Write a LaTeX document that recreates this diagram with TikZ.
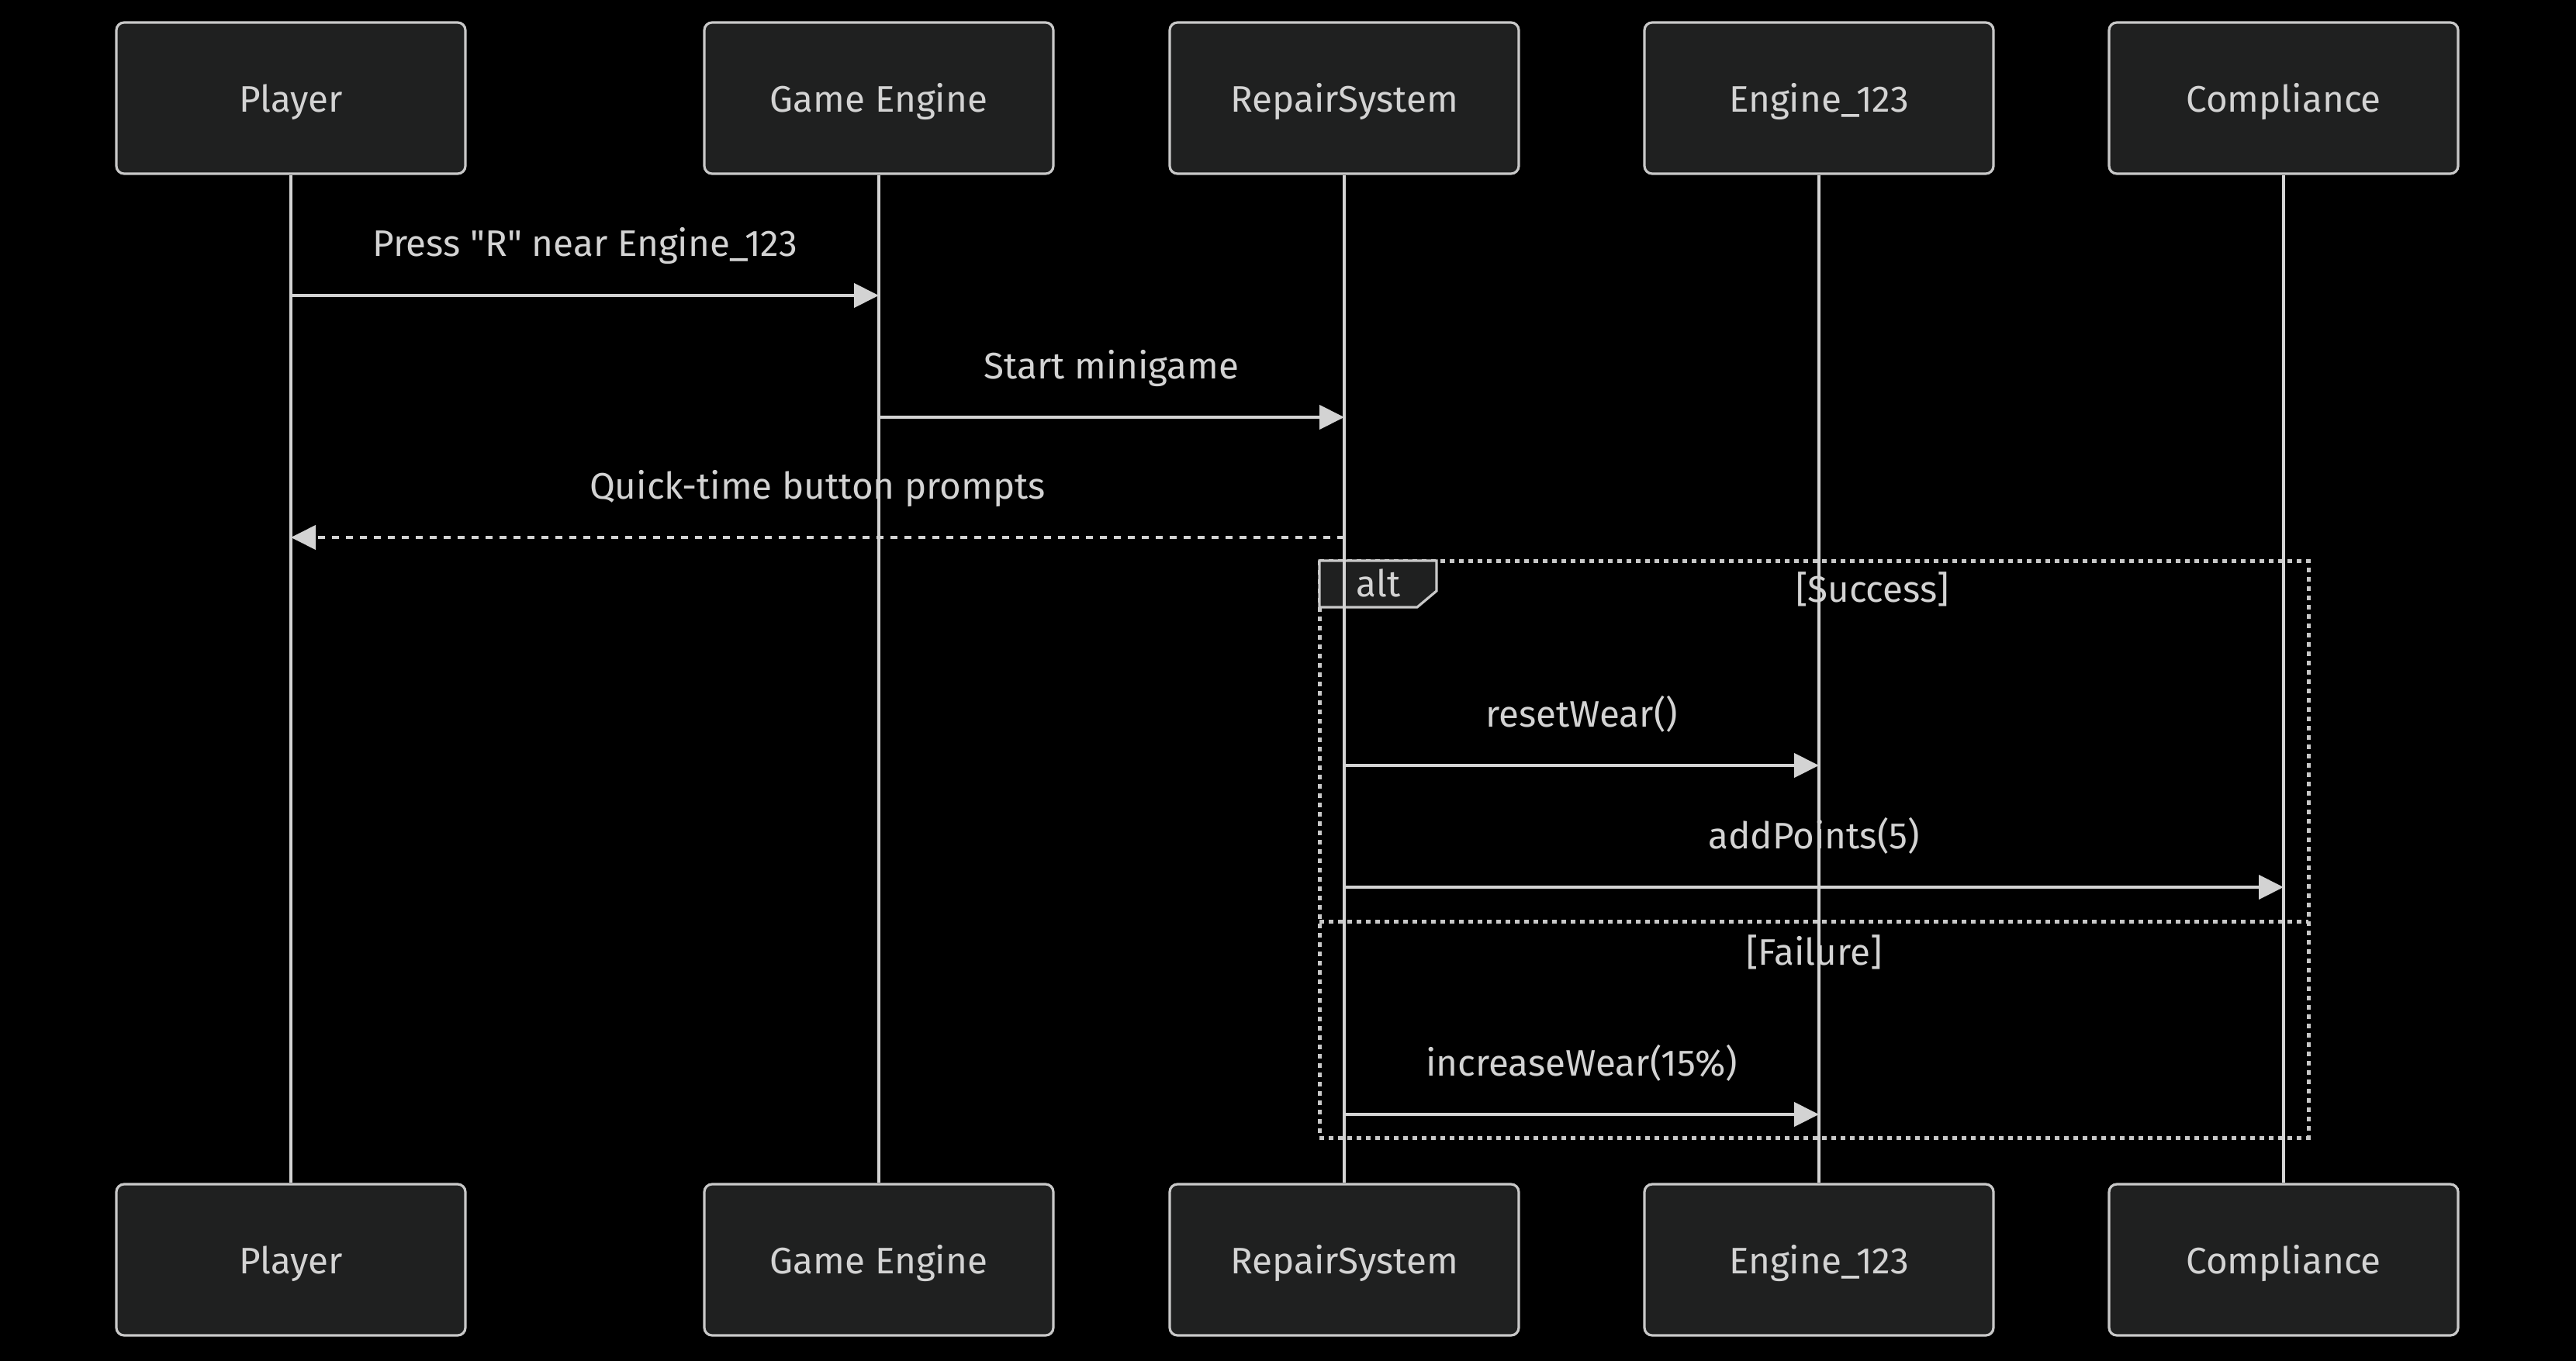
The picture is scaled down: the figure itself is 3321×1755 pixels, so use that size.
\documentclass[tikz,border=0pt]{standalone}
\usepackage{fontspec}
\setmainfont{Fira Sans}[Ligatures=TeXOff]
\usetikzlibrary{arrows.meta}
\definecolor{boxfill}{HTML}{1F2020}
\definecolor{boxline}{HTML}{C8C8C8}
\definecolor{txt}{HTML}{D3D3D3}
\definecolor{ln}{HTML}{D3D3D3}
\begin{document}
\begin{tikzpicture}[x=0.25pt,y=-0.25pt,
  actor/.style={draw=boxline, fill=boxfill, line width=0.8pt, rounded corners=2.5pt,
    minimum width=112.5pt, minimum height=48.75pt, text=txt,
    font=\fontsize{11.9}{14}\selectfont, inner sep=0pt, text height=9.2pt, text depth=0pt},
  life/.style={draw=ln, line width=1.05pt},
  msg/.style={draw=ln, line width=1pt, -{Triangle[length=8pt,width=7.75pt]}},
  retmsg/.style={msg, dash pattern=on 2.25pt off 2.25pt},
  lbl/.style={text=txt, font=\fontsize{11.9}{14}\selectfont, inner sep=0pt, anchor=base},
  framebox/.style={draw=boxline, line width=1.25pt, dash pattern=on 1.5pt off 1.5pt},
  tabbox/.style={draw=boxline, fill=boxfill, line width=0.8pt},
]
\fill[black] (0,0) rectangle (3321,1755);
\useasboundingbox (0,0) rectangle (3321,1755);

% actors top
\node[actor] (pT) at (375,126.5) {Player};
\node[actor] (gT) at (1133,126.5) {Game Engine};
\node[actor] (rT) at (1733,126.5) {RepairSystem};
\node[actor] (eT) at (2345,126.5) {Engine\_123};
\node[actor] (cT) at (2944,126.5) {Compliance};
% actors bottom
\node[actor] (pB) at (375,1624.5) {Player};
\node[actor] (gB) at (1133,1624.5) {Game Engine};
\node[actor] (rB) at (1733,1624.5) {RepairSystem};
\node[actor] (eB) at (2345,1624.5) {Engine\_123};
\node[actor] (cB) at (2944,1624.5) {Compliance};

% message rows
\coordinate (m1) at (0,381);
\coordinate (m2) at (0,538);
\coordinate (m3) at (0,693);
\coordinate (m4) at (0,987);
\coordinate (m5) at (0,1144);
\coordinate (m6) at (0,1437);

% alt frame
\draw[framebox] (1701,723) rectangle (2976,1467);
\draw[framebox] (1701,1188) -- (2976,1188);
\draw[tabbox] (1701,723) -- (1852,723) -- (1852,762) -- (1827,783) -- (1701,783) -- cycle;
\node[lbl, anchor=center] (altl) at (1777,752) {alt};
\node[lbl, anchor=center] (succ) at (2414,760) {[Success]};
\node[lbl, anchor=center] (fail) at (2339,1228) {[Failure]};

% labels
\path (pT |- m1) -- node[lbl, midway, yshift=12.5pt] (l1) {Press "R" near Engine\_123} (gT |- m1);
\path (gT |- m2) -- node[lbl, midway, yshift=12.5pt] (l2) {Start minigame} (rT |- m2);
\path (rT |- m3) -- node[lbl, midway, yshift=12.5pt] (l3) {Quick-time button prompts} (pT |- m3);
\path (rT |- m4) -- node[lbl, midway, yshift=12.5pt] (l4) {resetWear()} (eT |- m4);
\path (rT |- m5) -- node[lbl, midway, yshift=12.5pt] (l5) {addPoints(5)} (cT |- m5);
\path (rT |- m6) -- node[lbl, midway, yshift=12.5pt] (l6) {increaseWear(15\%)} (eT |- m6);

% lifelines
\draw[life] (pT.south) -- (pB.north);
\draw[life] (gT.south) -- (gB.north);
\draw[life] (rT.south) -- (rB.north);
\draw[life] (eT.south) -- (eB.north);
\draw[life] (cT.south) -- (cB.north);

% messages
\draw[msg] (pT |- m1) -- (gT |- m1);
\draw[msg] (gT |- m2) -- (rT |- m2);
\draw[retmsg] (rT |- m3) -- (pT |- m3);
\draw[msg] (rT |- m4) -- (eT |- m4);
\draw[msg] (rT |- m5) -- (cT |- m5);
\draw[msg] (rT |- m6) -- (eT |- m6);
\end{tikzpicture}
\end{document}
